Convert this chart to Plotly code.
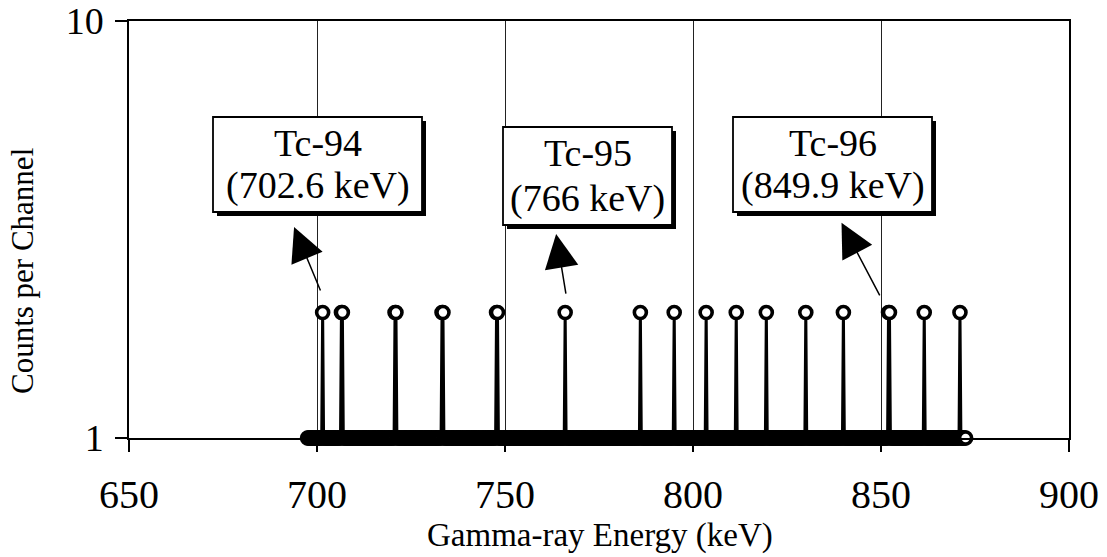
import plotly.graph_objects as go

# Spectrum channels (keV) and counts
channel_start_kev = 697.5
channel_stop_kev = 872.5
channel_step_kev = 0.25
baseline_count = 1

# channels that recorded 2 counts
peak_channels_kev = [701.5, 706.5, 706.75, 720.75, 721.0, 733.25, 733.5, 747.75, 748.0,
                     766.0, 786.0, 795.0, 803.5, 811.5, 819.5, 830.0, 840.0,
                     852.0, 852.25, 861.5, 871.0]
peak_counts = [2] * len(peak_channels_kev)

# labelled lines
line_labels = ["Tc-94", "Tc-95", "Tc-96"]
line_energies_text = ["(702.6 keV)", "(766 keV)", "(849.9 keV)"]

x_ticks = [650, 700, 750, 800, 850, 900]
y_ticks = [1, 10]

n_channels = int(round((channel_stop_kev - channel_start_kev) / channel_step_kev)) + 1
channels = [round(channel_start_kev + i * channel_step_kev, 3) for i in range(n_channels)]
peak_map = dict(zip(peak_channels_kev, peak_counts))
counts = [peak_map.get(c, baseline_count) for c in channels]

FONT = "Liberation Serif"

fig = go.Figure()
fig.add_trace(go.Scatter(
    x=channels, y=counts, mode="lines+markers",
    line=dict(color="black", width=3),
    marker=dict(symbol="circle", size=12, color="white",
                line=dict(color="black", width=3.6)),
    cliponaxis=False, showlegend=False, hoverinfo="x+y",
))

# plot area in pixels (used to place boxes in paper units)
L, R, T, B = 129, 1069, 21, 438
W, H = 1107, 557
PW, PH = R - L, B - T


def px_x(p):
    return (p - L) / PW


def px_y(p):
    return (B - p) / PH


boxes = [  # left, right, top, bottom in pixels
    (213, 422, 117, 212),
    (503, 672, 127, 225),
    (733, 932, 117, 212),
]
shapes = []
annotations = []
for (bl, br, bt, bb), lab, en in zip(boxes, line_labels, line_energies_text):
    sh = 4
    shapes.append(dict(type="rect", xref="paper", yref="paper",
                       x0=px_x(bl + sh), x1=px_x(br + sh), y0=px_y(bb + sh), y1=px_y(bt + sh),
                       fillcolor="black", line=dict(width=0), layer="above"))
    shapes.append(dict(type="rect", xref="paper", yref="paper",
                       x0=px_x(bl), x1=px_x(br), y0=px_y(bb), y1=px_y(bt),
                       fillcolor="white", line=dict(color="black", width=1.8), layer="above"))
    cx = px_x((bl + br) / 2)
    for txt, cy in ((lab, bt + 26), (en, bb - 27)):
        annotations.append(dict(xref="paper", yref="paper", x=cx, y=px_y(cy),
                                text=txt, showarrow=False,
                                font=dict(family=FONT, size=38, color="black"),
                                xanchor="center", yanchor="middle"))

# arrows: tip (keV, log10 counts) and tail offset in pixels
arrows = [
    (693.9, 0.506, 27, 65),
    (763.6, 0.489, 10, 61),
    (839.5, 0.516, 39, 74),
]
for x, y, ax, ay in arrows:
    annotations.append(dict(x=x, y=y, xref="x", yref="y", text="", showarrow=True,
                            ax=ax, ay=ay, arrowhead=2, arrowsize=4.5, arrowwidth=1.5,
                            arrowcolor="black"))

annotations.append(dict(xref="paper", yref="paper", x=px_x(22), y=px_y(271),
                        text="Counts per Channel", textangle=-90, showarrow=False,
                        font=dict(family=FONT, size=31, color="black"),
                        xanchor="center", yanchor="middle"))
annotations.append(dict(xref="paper", yref="paper", x=px_x(600), y=px_y(535),
                        text="Gamma-ray Energy (keV)", showarrow=False,
                        font=dict(family=FONT, size=33, color="black"),
                        xanchor="center", yanchor="middle"))

fig.update_layout(
    width=W, height=H,
    margin=dict(l=L, r=W - R, t=T, b=H - B, autoexpand=False),
    paper_bgcolor="white", plot_bgcolor="white",
    shapes=shapes, annotations=annotations,
    font=dict(family=FONT, color="black"),
)
fig.update_xaxes(
    range=[650, 900], tickmode="array", tickvals=x_ticks, automargin=False,
    ticks="outside", ticklen=12, tickwidth=1.5, tickcolor="black",
    tickfont=dict(family=FONT, size=40, color="black"), ticklabelstandoff=8,
    showline=True, linecolor="black", linewidth=1.5, mirror=True,
    showgrid=True, gridcolor="#222", gridwidth=1, zeroline=False,
)
fig.update_yaxes(
    type="log", range=[0, 1], tickmode="array", tickvals=y_ticks, automargin=False,
    ticktext=[str(v) for v in y_ticks],
    ticks="outside", ticklen=12, tickwidth=1.5, tickcolor="black",
    tickfont=dict(family=FONT, size=38, color="black"), ticklabelstandoff=4,
    showline=True, linecolor="black", linewidth=1.5, mirror=True,
    showgrid=False, zeroline=False,
)

fig.write_html("out.html")
